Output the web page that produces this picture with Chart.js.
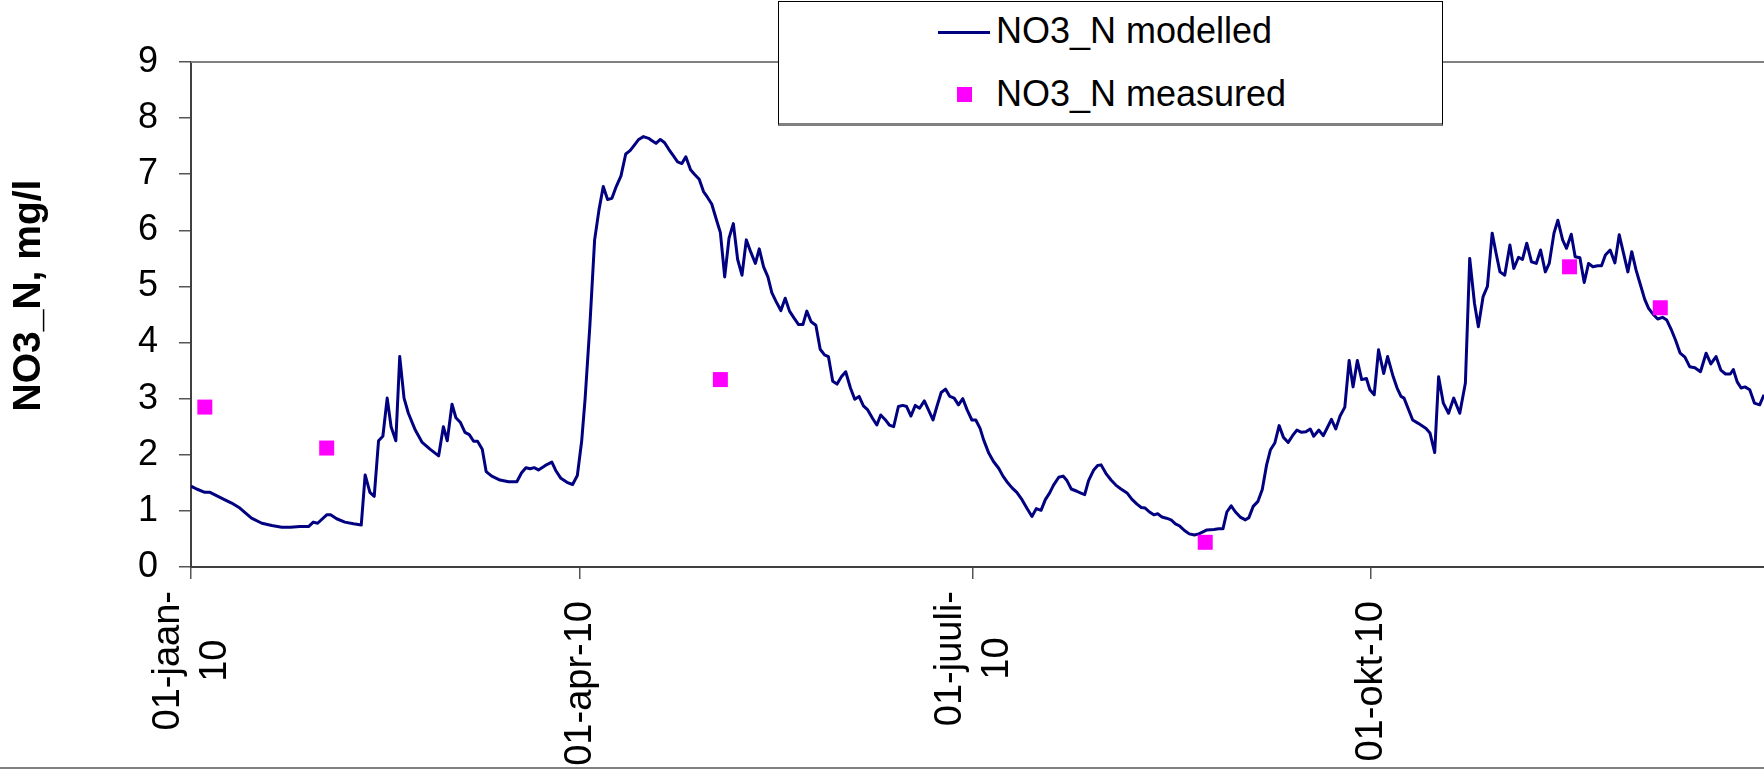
<!DOCTYPE html>
<html>
<head>
<meta charset="utf-8">
<title>NO3_N modelled / measured</title>
<script src="https://cdn.jsdelivr.net/npm/chart.js@4.4.1/dist/chart.umd.min.js"></script>
<style>
    html, body { margin: 0; padding: 0; background: #fff; overflow: hidden; }
    #wrap { position: relative; width: 1764px; height: 774px; overflow: hidden; background: #fff; }
    #chart { position: absolute; left: 0; top: 0; }
    #legend {
        position: absolute; left: 778px; top: 1px; width: 665px; height: 125px;
        box-sizing: border-box; background: #fff;
        border: 1px solid #000; border-bottom: 3px solid #808080;
    }
    .leg-text {
        position: absolute; left: 217px; white-space: nowrap; color: #000;
        font: 36px "Liberation Sans", Arial, sans-serif; line-height: 36px;
    }
    .leg-line { position: absolute; left: 159px; width: 52px; height: 3px; }
    .leg-box { position: absolute; left: 178px; width: 15px; height: 15px; }
    #edge {
        position: absolute; left: 0; top: 767px; width: 1764px; height: 7px;
        background: #fff; border-top: 2px solid #808080;
    }
</style>
</head>
<body>
<div id="wrap">
    <canvas id="chart" width="1764" height="774"></canvas>
    <div id="legend"></div>
    <div id="edge"></div>
</div>
<script>
// --- DATA (day of year 2010, 0 = 01-jan) ---
const modelledDay = [
    0, 1.3, 3.2, 4.4, 7.5, 9.4, 11.3, 14, 16.4, 18.7, 21, 23, 25.2, 27.2, 28.3, 29.3, 31.4, 32.3, 33.7, 35.6, 37.6, 39.4,
    40.3, 41.4, 42.4, 43.4, 44.4, 45.4, 46.3, 47.4, 48.3, 49.3, 50.3, 51.9, 53.5, 55.3, 57.3, 58.4, 59.3, 60.4, 61.3, 62.3, 63.4, 64.4,
    65.4, 66.3, 67.4, 68.3, 69.6, 71.5, 73.5, 75.4, 76.5, 77.5, 78.5, 79.4, 80.4, 82, 83.5, 84.4, 85.6, 87, 88.3, 89.4, 90.4, 91.2,
    92.3, 93.4, 94.4, 95.4, 96.4, 97.4, 98.4, 99.5, 100.6, 101.6, 102.6, 103.6, 104.7, 105.9, 106.6, 107.6, 108.6, 109.6, 110.6, 111.6, 112.6, 113.6,
    114.5, 115.6, 116.5, 117.6, 118.6, 119.5, 120.5, 121.5, 122.5, 123.5, 124.5, 125.5, 126.5, 127.5, 128.5, 129.5, 130.6, 131.5, 132.5, 133.5, 134.4, 135.4,
    136.5, 137.5, 138.5, 139.6, 140.6, 141.6, 142.5, 143.5, 144.6, 145.6, 146.6, 147.5, 148.5, 149.5, 150.5, 151.5, 152.6, 153.6, 154.6, 155.6, 156.6, 157.7,
    158.7, 159.6, 160.6, 161.6, 162.6, 163.7, 164.7, 165.6, 166.6, 167.6, 168.6, 169.7, 170.7, 171.7, 172.6, 173.6, 174.6, 175.6, 176.6, 177.6, 178.6, 179.6,
    180.7, 181.6, 182.6, 183.4, 184.6, 185.7, 186.9, 187.9, 188.8, 190, 191.1, 192.3, 193.4, 194.6, 195.6, 196.7, 197.7, 198.7, 199.6, 200.8, 201.8, 202.7,
    203.7, 205, 205.8, 206.8, 207.7, 208.9, 209.8, 210.6, 211.7, 212.9, 214, 215.2, 216.6, 217.7, 218.9, 219.9, 220.8, 221.8, 222.8, 223.7, 224.7, 225.7,
    226.8, 227.8, 228.8, 229.9, 231, 232.2, 233.2, 234.3, 235.1, 236.7, 237.8, 238.8, 239.7, 240.7, 241.7, 242.8, 244, 244.8, 245.8, 246.9, 247.9, 248.9,
    249.8, 250.8, 251.8, 252.8, 253.9, 254.9, 255.9, 257, 258, 259, 259.8, 261, 262, 263, 263.9, 264.9, 265.9, 267, 268, 268.9, 269.9, 270.9,
    272, 272.8, 273.8, 274.8, 276, 276.9, 278.2, 279.1, 280, 280.7, 282.7, 284, 285.8, 286.7, 287.8, 288.7, 289.8, 291, 292.2, 293.6, 294.9, 295.9,
    297, 297.9, 299, 300, 301.1, 302, 302.9, 304, 305.2, 306.1, 307.2, 308.1, 309.1, 310.2, 311.3, 312.3, 313.4, 314.3, 315.4, 316.3, 317.4, 318.3,
    319.4, 320.3, 321.4, 322.4, 323.4, 324.4, 325.5, 326.4, 327.3, 328.4, 329.5, 330.5, 331.5, 332.5, 333.4, 334.4, 335.4, 336.4, 337.3, 338.5, 339.4, 340.5,
    341.5, 342.6, 343.5, 344.6, 345.7, 346.8, 348, 349.3, 350.6, 351.7, 352.9, 354, 355.1, 356.2, 356.9, 357.8, 358.7, 359.6, 360.7, 361.8, 363, 364
];
const modelledNO3 = [
    1.44, 1.39, 1.33, 1.33, 1.21, 1.14, 1.05, 0.87, 0.78, 0.74, 0.71, 0.71, 0.72, 0.72, 0.80, 0.78, 0.93, 0.93, 0.86, 0.80, 0.77, 0.75,
    1.64, 1.33, 1.26, 2.25, 2.33, 3.01, 2.50, 2.25, 3.75, 3.01, 2.74, 2.44, 2.22, 2.10, 1.98, 2.50, 2.25, 2.90, 2.66, 2.58, 2.40, 2.36,
    2.24, 2.24, 2.10, 1.70, 1.62, 1.55, 1.52, 1.52, 1.68, 1.77, 1.75, 1.77, 1.73, 1.81, 1.87, 1.72, 1.58, 1.51, 1.47, 1.63, 2.24, 3.00,
    4.30, 5.83, 6.36, 6.78, 6.55, 6.57, 6.78, 6.97, 7.36, 7.42, 7.52, 7.62, 7.67, 7.64, 7.60, 7.55, 7.62, 7.56, 7.44, 7.33, 7.22, 7.19,
    7.31, 7.08, 7.00, 6.91, 6.69, 6.59, 6.47, 6.21, 5.96, 5.17, 5.86, 6.12, 5.48, 5.20, 5.83, 5.62, 5.41, 5.67, 5.35, 5.17, 4.89, 4.73,
    4.57, 4.79, 4.56, 4.43, 4.32, 4.32, 4.56, 4.37, 4.31, 3.88, 3.78, 3.75, 3.31, 3.26, 3.39, 3.48, 3.19, 2.99, 3.04, 2.87, 2.80, 2.65,
    2.53, 2.71, 2.63, 2.53, 2.50, 2.86, 2.88, 2.86, 2.69, 2.88, 2.83, 2.96, 2.79, 2.62, 2.86, 3.11, 3.17, 3.04, 3.01, 2.89, 3.00, 2.80,
    2.62, 2.62, 2.47, 2.27, 2.03, 1.88, 1.76, 1.62, 1.52, 1.41, 1.33, 1.20, 1.05, 0.90, 1.04, 1.01, 1.20, 1.32, 1.46, 1.60, 1.62, 1.54,
    1.39, 1.35, 1.32, 1.29, 1.54, 1.73, 1.81, 1.82, 1.67, 1.55, 1.46, 1.39, 1.32, 1.21, 1.12, 1.06, 1.05, 0.98, 0.93, 0.95, 0.89, 0.87,
    0.84, 0.77, 0.73, 0.65, 0.59, 0.57, 0.59, 0.63, 0.66, 0.67, 0.68, 0.68, 0.98, 1.09, 0.98, 0.89, 0.84, 0.88, 1.08, 1.17, 1.38, 1.82,
    2.09, 2.21, 2.52, 2.31, 2.22, 2.34, 2.44, 2.40, 2.41, 2.46, 2.33, 2.44, 2.34, 2.49, 2.63, 2.46, 2.69, 2.85, 3.68, 3.21, 3.68, 3.34,
    3.36, 3.16, 3.07, 3.87, 3.45, 3.75, 3.39, 3.19, 3.04, 3.01, 2.62, 2.56, 2.47, 2.39, 2.04, 3.39, 2.92, 2.74, 3.01, 2.74, 3.28, 5.50,
    4.70, 4.28, 4.82, 5.00, 5.95, 5.59, 5.26, 5.20, 5.74, 5.32, 5.52, 5.48, 5.77, 5.44, 5.41, 5.65, 5.26, 5.41, 5.95, 6.18, 5.83, 5.68,
    5.93, 5.53, 5.51, 5.07, 5.41, 5.35, 5.37, 5.37, 5.56, 5.65, 5.42, 5.92, 5.59, 5.26, 5.62, 5.29, 5.03, 4.77, 4.61, 4.49, 4.42, 4.45,
    4.40, 4.22, 4.05, 3.81, 3.74, 3.57, 3.55, 3.48, 3.81, 3.62, 3.75, 3.51, 3.44, 3.44, 3.52, 3.30, 3.19, 3.21, 3.16, 2.92, 2.89, 3.07
];
const measuredDay = [3.2, 31.4, 122.5, 234.7, 319, 340];
const measuredNO3 = [2.85, 2.12, 3.34, 0.44, 5.35, 4.62];

// x axis ticks (quarter starts) and their labels, as printed
const tickDays = [0, 90, 181, 273];
const tickLabels = [['01-jaan-', '10'], ['01-apr-10'], ['01-juuli-', '10'], ['01-okt-10']];
const yTicks = [0, 1, 2, 3, 4, 5, 6, 7, 8, 9];
const yTitle = 'NO3_N, mg/l';
const seriesNames = ['NO3_N modelled', 'NO3_N measured'];

const FONT = '"Liberation Sans", Arial, sans-serif';

const toPoints = (days, values) => days.map((d, i) => ({ x: d, y: values[i] }));

// Excel-like texts: centred two-line rotated date labels, y title, top frame line
const excelText = {
    id: 'excelText',
    beforeDatasetsDraw(chart) {
        const { ctx, chartArea } = chart;
        ctx.save();
        ctx.strokeStyle = '#808080';
        ctx.lineWidth = 2;
        ctx.beginPath();
        ctx.moveTo(chartArea.left, chartArea.top);
        ctx.lineTo(chartArea.right, chartArea.top);
        ctx.stroke();
        ctx.restore();
    },
    afterDraw(chart) {
        const { ctx, chartArea } = chart;
        const xScale = chart.scales.x;
        ctx.save();
        ctx.fillStyle = '#000';
        ctx.textAlign = 'center';
        ctx.textBaseline = 'middle';
        ctx.font = '38px ' + FONT;
        tickDays.forEach((day, i) => {
            const lines = tickLabels[i];
            const px = xScale.getPixelForValue(day);
            const w = Math.max(...lines.map(l => ctx.measureText(l).width));
            const gap = lines.length > 1 ? 24 : 34;
            ctx.save();
            ctx.translate(px + 1, chartArea.bottom + gap + w / 2);
            ctx.rotate(-Math.PI / 2);
            lines.forEach((line, j) => {
                ctx.fillText(line, 0, (j - (lines.length - 1) / 2) * 47);
            });
            ctx.restore();
        });

        // y axis title
        ctx.font = 'bold 39px ' + FONT;
        ctx.translate(29, (chartArea.top + chartArea.bottom) / 2 - 19);
        ctx.rotate(-Math.PI / 2);
        ctx.fillText(yTitle, 0, 0);
        ctx.restore();
    }
};

const chart = new Chart(document.getElementById('chart'), {
    type: 'line',
    data: {
        datasets: [
            {
                label: seriesNames[0],
                data: toPoints(modelledDay, modelledNO3),
                borderColor: '#000080',
                borderWidth: 3,
                borderJoinStyle: 'round',
                pointRadius: 0,
                tension: 0,
                order: 1
            },
            {
                label: seriesNames[1],
                data: toPoints(measuredDay, measuredNO3),
                showLine: false,
                pointStyle: 'rect',
                pointRadius: 10.6,
                pointBorderWidth: 0,
                pointBackgroundColor: '#FF00FF',
                borderColor: '#FF00FF',
                order: 0
            }
        ]
    },
    options: {
        responsive: false,
        animation: false,
        devicePixelRatio: 1,
        layout: { autoPadding: false, padding: { top: 62, left: 0, right: 0, bottom: 0 } },
        plugins: {
            legend: { display: false },
            tooltip: { enabled: false }
        },
        scales: {
            x: {
                type: 'linear',
                min: 0,
                max: 364,
                afterBuildTicks: (scale) => { scale.ticks = tickDays.map(v => ({ value: v })); },
                afterFit: (scale) => { scale.height = 207; },
                ticks: { display: false },
                grid: { drawOnChartArea: false, tickLength: 12, color: '#555', lineWidth: 1.5 },
                border: { color: '#404040', width: 2 }
            },
            y: {
                min: 0,
                max: 9,
                afterBuildTicks: (scale) => { scale.ticks = yTicks.map(v => ({ value: v })); },
                afterFit: (scale) => { scale.width = 191; },
                ticks: { color: '#000', padding: 21, font: { family: FONT, size: 36 } },
                grid: { drawOnChartArea: false, tickLength: 12, color: '#555', lineWidth: 1.5 },
                border: { color: '#404040', width: 2 }
            }
        }
    },
    plugins: [excelText]
});

// HTML legend box built from the datasets
function buildLegend(chart) {
    const box = document.getElementById('legend');
    chart.data.datasets.forEach((ds, i) => {
        const rowTop = 63.4 * i;
        const sym = document.createElement('div');
        if (ds.showLine === false) {
            sym.className = 'leg-box';
            sym.style.top = (22 + rowTop) + 'px';
            sym.style.background = ds.pointBackgroundColor;
        } else {
            sym.className = 'leg-line';
            sym.style.top = (28.5 + rowTop) + 'px';
            sym.style.background = ds.borderColor;
        }
        const txt = document.createElement('div');
        txt.className = 'leg-text';
        txt.style.top = (10.8 + rowTop) + 'px';
        txt.textContent = ds.label;
        box.appendChild(sym);
        box.appendChild(txt);
    });
}
buildLegend(chart);
</script>
</body>
</html>
